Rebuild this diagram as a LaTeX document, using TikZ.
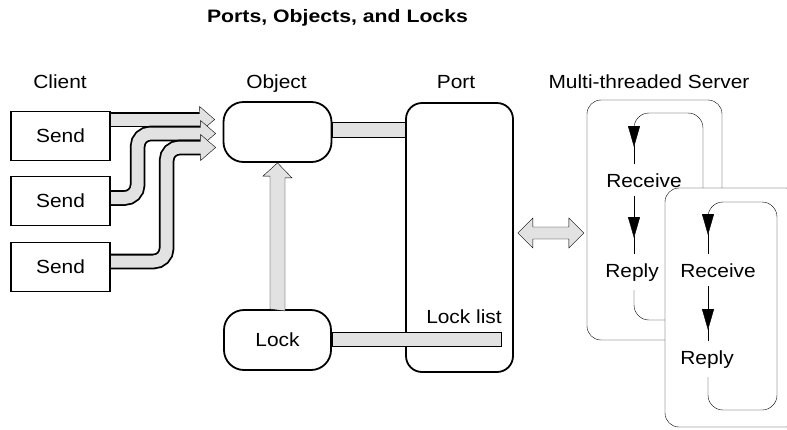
\documentclass[tikz,border=0pt]{standalone}
\usepackage{fontspec}
\setmainfont{Liberation Sans}[FakeStretch=1.1]
\newfontfamily\headfont{Liberation Sans}[FakeStretch=1.18]
\usetikzlibrary{arrows.meta,calc}
\pgfdeclarelayer{pipes}
\pgfsetlayers{pipes,main}
\definecolor{pipegray}{RGB}{226,226,226}
% thick outlined pipe: black stroke with a lighter core
\newcommand\fatpipe[1]{%
  \draw[line width=15.6pt, draw=black, rounded corners=13pt] #1;
  \draw[line width=12pt, draw=pipegray, rounded corners=13pt] #1;}
% open arrow head at the end of a pipe, pointing right
\newcommand\fathead[1]{%
  \fill[pipegray] (#1) -- ++(-15,-13) -- ++(0,26) -- cycle;
  \draw[line join=miter] (#1) ++(-15,-7.8) -- ++(0,-5.2) -- (#1) -- ++(-15,13) -- ++(0,-5.2);}
\begin{document}
\begin{tikzpicture}[x=1pt,y=-1pt,line width=1.8pt,
  txt/.style={font=\fontsize{19}{22}\selectfont, inner sep=0pt},
  hdr/.style={txt, anchor=base},
  sendbox/.style={draw, fill=white, minimum width=99pt, minimum height=49pt,
    inner sep=0pt, font=\fontsize{19}{22}\selectfont},
  blob/.style={draw, fill=white, rounded corners=20pt, minimum width=107pt,
    minimum height=60pt, inner sep=0pt, font=\fontsize{19}{22}\selectfont},
  panel/.style={draw, fill=white, inner sep=0pt},
  band/.style={draw, fill=pipegray, line join=miter},
  loopline/.style={rounded corners=15pt},
  loophead/.style={-{Triangle[length=21pt,width=12pt]}},
  loopword/.style={font=\fontsize{19}{22}\selectfont, anchor=base,
    inner ysep=9pt, inner xsep=2pt},
]
\useasboundingbox (0,0) rectangle (787,429);
\clip (0,0) rectangle (787,429);

% title and column headings
\node[anchor=base, font=\headfont\bfseries\fontsize{18}{22}\selectfont] (title)
  at (337.5,22) {Ports, Objects, and Locks};
\node[hdr] (hclient) at (60,88) {Client};
\node[hdr] (hobject) at (276.5,88) {Object};
\node[hdr] (hport)   at (456,88) {Port};
\node[hdr] (hserver) at (649,88) {Multi-threaded Server};

% clients
\node[sendbox] (s1) at (60.5,136) {Send};
\node[sendbox] (s2) at (60.5,201) {Send};
\node[sendbox] (s3) at (60.5,267) {Send};

% object, lock and port
\node[blob, minimum width=108pt] (obj) at (277.5,132) {};
\node[blob] (lock) at (277.5,340) {Lock};
\node[panel, rounded corners=16pt, minimum width=107pt, minimum height=269pt]
  (port) at (459.5,237.5) {};

% send pipes into the object
\begin{pgfonlayer}{pipes}
  \coordinate (t1) at ($(obj.west)+(-8,-12.5)$);
  \coordinate (t2) at ($(obj.west)+(-7,1.5)$);
  \coordinate (t3) at ($(obj.west)+(-7,15.5)$);
  \fatpipe{($(s1.east)+(0,-16.5)$) -- ($(t1)+(-13,0)$)}
  \fathead{t1}
  \fatpipe{($(s2.east)+(0,-3)$) -| ($(t2)+(-78,0)$) -- ($(t2)+(-13,0)$)}
  \fathead{t2}
  \fatpipe{($(s3.east)+(0,-5.5)$) -| ($(t3)+(-49,0)$) -- ($(t3)+(-13,0)$)}
  \fathead{t3}
\end{pgfonlayer}

% object to port
\coordinate (op) at (obj.east -| port.west);
\draw[band] ($(obj.east)+(0,-10)$) rectangle ($(op)+(0,5)$);

% lock list entry
\node[hdr] (llist) at (464,323) {Lock list};
\draw[band] ($(lock.east)+(0,-8)$) rectangle ($(lock.east)+(169,6)$);

% lock to object
\draw[band] ($(lock.north)+(-7.5,0)$) -- ++(0,-133) -- ++(-7,0) -- (obj.south)
  -- ++(14.5,15) -- ++(-7,0) -- ++(0,133) -- cycle;

% port <-> server
\draw[band] ($(port.east)+(4,-4.5)$) -- ++(15,-15) -- ++(0,9) -- ++(36,0)
  -- ++(0,-9) -- ++(15,15) -- ++(-15,15) -- ++(0,-9) -- ++(-36,0) -- ++(0,9) -- cycle;

% first server thread
\node[panel, rounded corners=14pt, minimum width=135pt, minimum height=240pt]
  (srv1) at (654.5,220) {};
\node[loopword] (rc1) at (644,187) {Receive};
\node[loopword] (rp1) at (632,277) {Reply};
\coordinate (lx1) at (634,0);
\draw[loopline, loophead] (lx1 |- rp1.south) -- (634,320) -- (703,320)
  -- (703,113) -- (634,113) -- (634,147);
\draw (634,145) -- (lx1 |- rc1.north);
\draw[loophead] (lx1 |- rc1.south) -- (634,238);
\draw (634,236) -- (lx1 |- rp1.north);

% second server thread
\node[panel, rounded corners=14pt, minimum width=135pt, minimum height=239pt]
  (srv2) at (732.5,307.5) {};
\node[loopword] (rc2) at (718,277) {Receive};
\node[loopword] (rp2) at (707,364) {Reply};
\coordinate (lx2) at (708,0);
\draw[loopline, loophead] (lx2 |- rp2.south) -- (708,410) -- (777,410)
  -- (777,202) -- (708,202) -- (708,235);
\draw (708,233) -- (lx2 |- rc2.north);
\draw[loophead] (lx2 |- rc2.south) -- (708,330);
\draw (708,328) -- (lx2 |- rp2.north);
\end{tikzpicture}
\end{document}
